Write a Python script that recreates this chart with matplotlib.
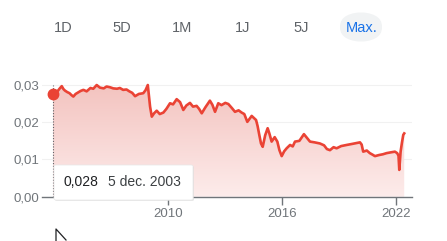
import matplotlib.pyplot as plt
import numpy as np
from matplotlib.patches import FancyBboxPatch
from matplotlib.lines import Line2D
from matplotlib.colors import LinearSegmentedColormap

# values (decimal year, price)
years = [2003.93, 2004.05, 2004.15, 2004.27, 2004.39, 2004.48, 2004.56, 2004.68, 2004.8,
         2004.9, 2005.0, 2005.12, 2005.25, 2005.38, 2005.53, 2005.7, 2005.9, 2006.05,
         2006.23, 2006.4, 2006.6, 2006.75, 2006.93, 2007.1, 2007.3, 2007.45, 2007.62,
         2007.8, 2007.95, 2008.1, 2008.25, 2008.45, 2008.68, 2008.8, 2008.92,
         2009.04, 2009.13, 2009.25, 2009.39, 2009.55, 2009.74, 2009.9, 2010.09, 2010.25,
         2010.44, 2010.62, 2010.79, 2010.95, 2011.14, 2011.3, 2011.49, 2011.62, 2011.76,
         2011.95, 2012.19, 2012.32, 2012.46, 2012.63, 2012.8, 2013.0, 2013.16, 2013.35,
         2013.51, 2013.7, 2013.86, 2014.0, 2014.16, 2014.39, 2014.62, 2014.7, 2014.79,
         2014.88, 2014.97, 2015.1, 2015.23, 2015.32, 2015.44, 2015.6, 2015.74, 2015.85,
         2015.97, 2016.1, 2016.23, 2016.41, 2016.55, 2016.67, 2016.9, 2017.14, 2017.3,
         2017.46, 2017.7, 2017.98, 2018.2, 2018.35, 2018.51, 2018.7, 2018.86, 2019.1,
         2019.39, 2019.7, 2020.09, 2020.18, 2020.26, 2020.45, 2020.61, 2020.75, 2020.88,
         2021.1, 2021.3, 2021.49, 2021.7, 2021.93, 2022.05, 2022.12, 2022.16, 2022.23,
         2022.3, 2022.37, 2022.42]
prices = [0.0275, 0.0284, 0.0282, 0.0290, 0.0297, 0.0289, 0.0285, 0.0281, 0.0278,
          0.0273, 0.0269, 0.0276, 0.0280, 0.0284, 0.0287, 0.0283, 0.0292, 0.0290,
          0.0300, 0.0293, 0.0291, 0.0296, 0.0294, 0.0291, 0.0290, 0.0292, 0.0287,
          0.0288, 0.0283, 0.0279, 0.0270, 0.0276, 0.0278, 0.0286, 0.0300,
          0.0242, 0.0215, 0.0224, 0.0231, 0.0222, 0.0226, 0.0236, 0.0251, 0.0248,
          0.0262, 0.0254, 0.0233, 0.0245, 0.0252, 0.0242, 0.0244, 0.0236, 0.0224,
          0.0240, 0.0258, 0.0247, 0.0228, 0.0251, 0.0246, 0.0252, 0.0249, 0.0238,
          0.0228, 0.0232, 0.0226, 0.0222, 0.0201, 0.0217, 0.0206, 0.0190, 0.0166,
          0.0143, 0.0134, 0.0165, 0.0184, 0.0170, 0.0148, 0.0160, 0.0148, 0.0125,
          0.0109, 0.0122, 0.0130, 0.0139, 0.0135, 0.0148, 0.0150, 0.0168, 0.0158,
          0.0148, 0.0146, 0.0143, 0.0138, 0.0128, 0.0125, 0.0133, 0.0130, 0.0136,
          0.0139, 0.0142, 0.0146, 0.0140, 0.0121, 0.0124, 0.0117, 0.0113, 0.0109,
          0.0112, 0.0114, 0.0117, 0.0119, 0.0121, 0.0117, 0.0110, 0.0072, 0.0121,
          0.0145, 0.0166, 0.0170]
y_ticks = [0.0, 0.01, 0.02, 0.03]
y_labels = ["0,00", "0,01", "0,02", "0,03"]
x_ticks = [2010, 2016, 2022]
ranges = ["1D", "5D", "1M", "1J", "5J", "Max."]
tip_value = "0,028"
tip_date = "5 dec. 2003"

RED = "#ea4335"
GRAY = "#70757a"
W, H = 447, 241

plt.rcParams["font.family"] = ["Liberation Sans", "DejaVu Sans"]
fig = plt.figure(figsize=(W / 100, H / 100), dpi=100)
ax = fig.add_axes([42 / W, 1 - 196.7 / H, 370 / W, 115.4 / H])
ax.set_xlim(2003.35, 2022.83)
ax.set_ylim(0, 0.031)

# gradient fill under the curve
fill = ax.fill_between(years, prices, 0, color="none", lw=0)
grad = np.linspace(0, 1, 256).reshape(-1, 1)
cmap = LinearSegmentedColormap.from_list("g", ["#fdeceb", "#f3c2be"])
img = ax.imshow(grad, cmap=cmap, aspect="auto", origin="lower",
                extent=[years[0], years[-1], 0, 0.031], zorder=1)
img.set_clip_path(fill.get_paths()[0], transform=ax.transData)

ax.plot(years, prices, color=RED, lw=1.9, zorder=3)
ax.plot(years[0], prices[0], "o", color=RED, ms=7.5, zorder=4)
ax.plot([years[0], years[0]], [0, 0.03], color="#5f6368", lw=0.8, ls=(0, (1, 1.5)), zorder=2)

for v in y_ticks[1:]:
    ax.axhline(v, color="#f1f1f1", lw=0.8, zorder=0)

for s in ["top", "right", "left"]:
    ax.spines[s].set_visible(False)
ax.spines["bottom"].set_color(GRAY)
ax.spines["bottom"].set_linewidth(1.0)
ax.set_yticks(y_ticks)
ax.set_yticklabels(y_labels)
ax.set_xticks(x_ticks)
ax.set_xticklabels([str(t) for t in x_ticks])
ax.tick_params(axis="y", length=0, pad=2, labelsize=9.5, labelcolor=GRAY)
ax.tick_params(axis="x", length=6, width=1, color=GRAY, pad=2, labelsize=9.5, labelcolor=GRAY)

# range buttons
btn_x = [63.5, 122, 182.5, 243, 301.5, 361.5]
fig.patches.append(FancyBboxPatch((340 / W, 1 - 42 / H), 42 / W, 30 / H,
                                  boxstyle="round,pad=0,rounding_size=0.06",
                                  transform=fig.transFigure, fc="#f1f3f4", ec="none"))
for lbl, bx in zip(ranges, btn_x):
    fig.text(bx / W, 1 - 28 / H, lbl, ha="center", va="center", fontsize=10.5,
             color="#1a73e8" if lbl == "Max." else "#5f6368")

# tooltip
fig.patches.append(FancyBboxPatch((55 / W, 1 - 201 / H), 139 / W, 35 / H,
                                  boxstyle="round,pad=0,rounding_size=0.005",
                                  transform=fig.transFigure, fc="#d8d8d8", ec="none",
                                  alpha=0.6, zorder=5))
fig.patches.append(FancyBboxPatch((54 / W, 1 - 200 / H), 139 / W, 35 / H,
                                  boxstyle="round,pad=0,rounding_size=0.005",
                                  transform=fig.transFigure, fc="white", ec="#e8e8e8",
                                  lw=0.5, zorder=6))
fig.text(64 / W, 1 - 182.5 / H, tip_value, ha="left", va="center", fontsize=10,
         color="#202124", zorder=7)
fig.text(108 / W, 1 - 182.5 / H, tip_date, ha="left", va="center", fontsize=10,
         color="#3c4043", zorder=7)

# mouse cursor
fig.lines.append(Line2D([56 / W, 56 / W, 66 / W], [0, 1 - 229 / H, 1 - 240 / H],
                        transform=fig.transFigure, color="#202124", lw=0.9, zorder=7))

fig.savefig("out.png", dpi=100)
